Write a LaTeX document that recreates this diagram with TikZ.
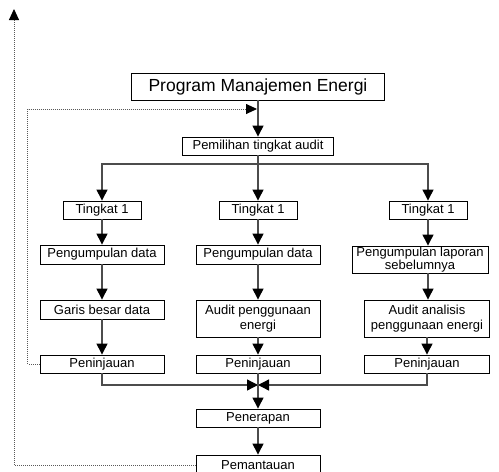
\documentclass[tikz,border=0pt]{standalone}
\usepackage{fontspec}
\setmainfont{Liberation Sans}
\usetikzlibrary{arrows.meta}
\begin{document}
\begin{tikzpicture}[x=1pt,y=-1pt,
	kotak/.style={draw,line width=0.9pt,inner sep=0pt,minimum height=18pt,align=center,font=\fontsize{13}{14.5}\selectfont},
	panah/.style={draw=black!70,line width=1.3pt,-{Triangle[length=11pt,width=11pt,color=black]}},
	balik/.style={draw=black!65,line width=0.9pt,dash pattern=on 1pt off 1pt,-{Triangle[length=11pt,width=10pt,color=black]}}]
	\useasboundingbox (0,0) rectangle (499,472);
	\path (258,86.5)node[kotak,font=\fontsize{17.5}{20}\selectfont,minimum width=253pt,minimum height=27pt](prog){Program Manajemen Energi}
	(258,146)node[kotak,minimum width=151pt](pilih){Pemilihan tingkat audit}
	(102,210)node[kotak,minimum width=78pt](tkA){Tingkat 1}
	(258,210)node[kotak,minimum width=78pt](tkB){Tingkat 1}
	(428,210)node[kotak,minimum width=78pt](tkC){Tingkat 1}
	(102,254.5)node[kotak,minimum width=124pt,minimum height=19pt](kumA){Pengumpulan data}
	(258,254.5)node[kotak,minimum width=124pt,minimum height=19pt](kumB){Pengumpulan data}
	(420,259.5)node[kotak,font=\fontsize{13}{12.5}\selectfont,inner ysep=1.2pt,minimum width=136pt](kumC){Pengumpulan laporan\\sebelumnya}
	(102,309.5)node[kotak,minimum width=124pt,minimum height=19pt](garis){Garis besar data}
	(258,318.5)node[kotak,minimum width=124pt,minimum height=37pt](audB){Audit penggunaan\\energi}
	(427,318.5)node[kotak,minimum width=125pt,minimum height=37pt](audC){Audit analisis\\penggunaan energi}
	(102,364)node[kotak,minimum width=124pt](tinA){Peninjauan}
	(258,364)node[kotak,minimum width=124pt](tinB){Peninjauan}
	(427,364)node[kotak,minimum width=125pt](tinC){Peninjauan}
	(258,418)node[kotak,minimum width=124pt](terap){Penerapan}
	(258,465)node[kotak,minimum width=124pt,minimum height=20pt](pantau){Pemantauan};
	\coordinate (cabang) at (258,164);
	\coordinate (gabung) at (258,385);
	\coordinate (masuk) at (257,109);
	\coordinate (puncak) at (14,9);
	\draw[panah] (prog)--(pilih);
	\draw[panah] (pilih)--(tkB);
	\draw[panah] (cabang)-|(tkA);
	\draw[panah] (cabang)-|(tkC);
	\draw[panah] (tkA)--(kumA);
	\draw[panah] (kumA)--(garis);
	\draw[panah] (garis)--(tinA);
	\draw[panah] (tkB)--(kumB);
	\draw[panah] (kumB)--(audB);
	\draw[panah] (audB)--(tinB);
	\draw[panah] (tkC)--(tkC|-kumC.north);
	\draw[panah] (kumC.south-|tkC)--(audC.north-|tkC);
	\draw[panah] (audC)--(tinC);
	\draw[panah] (tinA)|-(gabung);
	\draw[panah] (tinC)|-(gabung);
	\draw[panah] (tinB)--(terap);
	\draw[panah] (terap)--(pantau);
	\draw[balik] (tinA.west)--++(-12,0)|-(masuk);
	\draw[balik] (pantau.west)-|(puncak);
\end{tikzpicture}
\end{document}
